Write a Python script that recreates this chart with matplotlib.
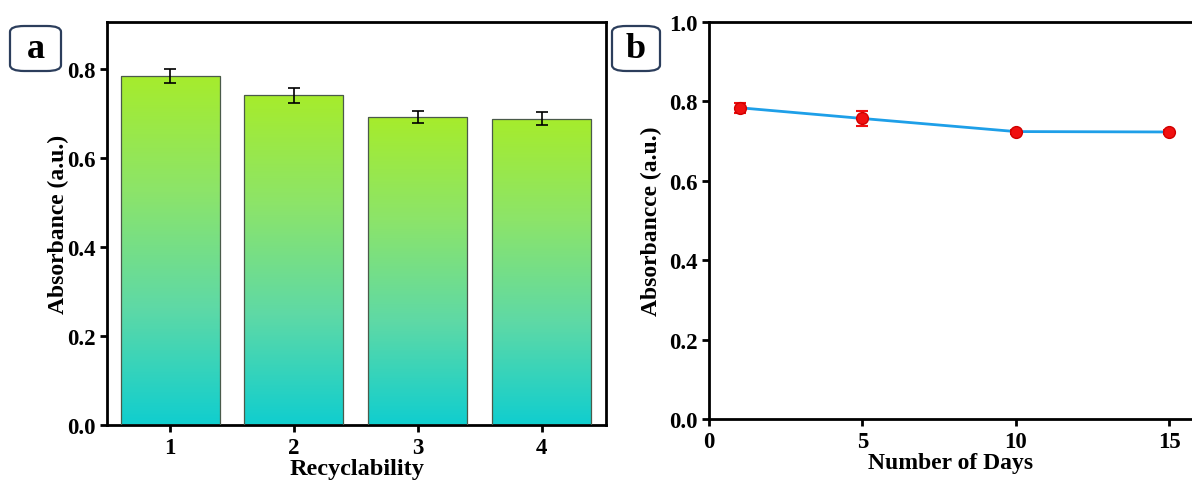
import numpy as np
import matplotlib
matplotlib.use("Agg")
import matplotlib.pyplot as plt
from matplotlib.colors import LinearSegmentedColormap
from matplotlib.patches import FancyBboxPatch

# Data
cycles = [1, 2, 3, 4]
cycle_abs = [0.785, 0.741, 0.692, 0.689]
cycle_err = [0.016, 0.016, 0.014, 0.015]

days = [1, 5, 10, 15]
day_abs = [0.784, 0.757, 0.724, 0.723]
day_err = [0.012, 0.020, 0.005, 0.005]

plt.rcParams['font.family'] = ['Liberation Serif', 'DejaVu Serif']
plt.rcParams['font.weight'] = 'bold'

fig = plt.figure(figsize=(11.92, 4.85), dpi=100)
W, H = 1192, 485

def ax_rect(l, r, t, b):
    return [l / W, 1 - b / H, (r - l) / W, (b - t) / H]

cmap = LinearSegmentedColormap.from_list('g', ['#10CECF', '#5ED9A6', '#8CE46A', '#A6EC2C'])

# Panel a
ax1 = fig.add_axes(ax_rect(107, 606, 23, 426))
bars = ax1.bar(cycles, cycle_abs, width=0.8, color='none', edgecolor='#4a5a4a', linewidth=0.9, zorder=3)
grad = np.linspace(0, 1, 256).reshape(-1, 1)
for b in bars:
    x0, y0 = b.get_x(), b.get_y()
    w, h = b.get_width(), b.get_height()
    im = ax1.imshow(grad, cmap=cmap, origin='lower', aspect='auto',
                    extent=[x0, x0 + w, y0, y0 + h], zorder=2)
    im.set_clip_path(b)
ax1.errorbar(cycles, cycle_abs, yerr=cycle_err, fmt='none', ecolor='black',
             elinewidth=1.2, capsize=4, capthick=1.2, zorder=4)
ax1.set_xlim(0.49, 4.52)
ax1.set_ylim(0, 0.906)
ax1.set_xticks(cycles)
ax1.set_yticks([0.0, 0.2, 0.4, 0.6, 0.8])
ax1.set_yticklabels(['0.0', '0.2', '0.4', '0.6', '0.8'])
ax1.set_xlabel('Recyclability', fontsize=17.5, fontweight='bold', labelpad=0)
ax1.set_ylabel('Absorbance (a.u.)', fontsize=17, fontweight='bold', labelpad=-1)

# Panel b
ax2 = fig.add_axes(ax_rect(709, 1192, 23, 420))
ax2.plot(days, day_abs, color='#1E9FE8', linewidth=2, zorder=2)
ax2.errorbar(days, day_abs, yerr=day_err, fmt='o', color='#F01010', markersize=8.5,
             markeredgecolor='#D00000', ecolor='#F01010', elinewidth=1.5,
             capsize=4, capthick=1.5, zorder=3)
ax2.set_xlim(0, (1192 - 709) / (1169 - 709) * 15)
ax2.set_ylim(0, 1.0)
ax2.set_xticks([0, 5, 10, 15])
ax2.set_yticks([0.0, 0.2, 0.4, 0.6, 0.8, 1.0])
ax2.set_yticklabels(['0.0', '0.2', '0.4', '0.6', '0.8', '1.0'])
ax2.spines['right'].set_visible(False)
ax2.set_xlabel('Number of Days', fontsize=17, fontweight='bold', labelpad=0)
ax2.set_ylabel('Absorbancce (a.u.)', fontsize=17, fontweight='bold', labelpad=5)

for ax in (ax1, ax2):
    for s in ax.spines.values():
        s.set_linewidth(2)
    ax.tick_params(axis='y', direction='out', length=5, width=2, labelsize=16.5, pad=3)
    ax.tick_params(axis='x', direction='out', length=5, width=2, labelsize=16.5, pad=4)
    for lab in ax.get_xticklabels() + ax.get_yticklabels():
        lab.set_fontweight('bold')

# Panel labels
for (l, r, t, b, txt) in [(10, 61, 27, 72, 'a'), (612, 660, 27, 72, 'b')]:
    box = FancyBboxPatch((l / W, 1 - b / H), (r - l) / W, (b - t) / H,
                         boxstyle='round,pad=0,rounding_size=0.012',
                         transform=fig.transFigure, facecolor='white',
                         edgecolor='#2C3E5C', linewidth=1.6)
    fig.patches.append(box)
    fig.text((l + r) / 2 / W, 1 - (t + b) / 2 / H, txt, ha='center', va='center',
             fontsize=26, fontweight='bold')

fig.savefig('out.png', dpi=100)
